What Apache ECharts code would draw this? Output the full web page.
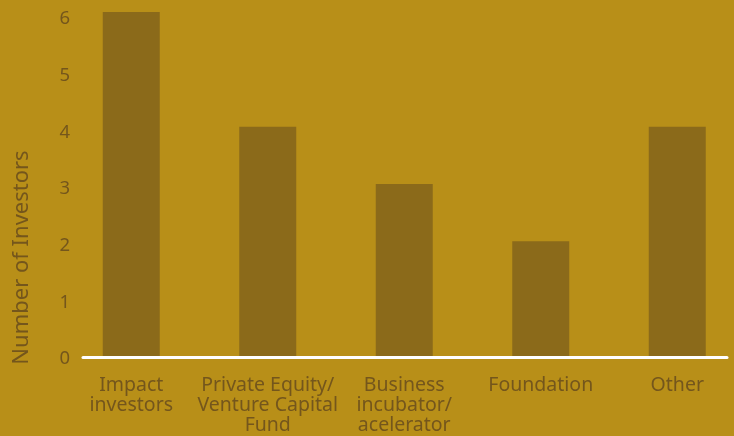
<!DOCTYPE html>
<html>
<head>
<meta charset="utf-8">
<script src="https://cdn.jsdelivr.net/npm/echarts@6/dist/echarts.min.js"></script>
<style>
html,body{margin:0;padding:0;background:#b88f18;}
#chart{width:734px;height:436px;}
</style>
</head>
<body>
<div id="chart"></div>
<script>
const categories = ['Impact\ninvestors', 'Private Equity/\nVenture Capital\nFund', 'Business\nincubator/\nacelerator', 'Foundation', 'Other'];
const investors = [6, 4, 3, 2, 4];
const yTicks = [0, 1, 2, 3, 4, 5, 6];

const textColor = '#74561c';
const font = 'Noto Sans';
const chart = echarts.init(document.getElementById('chart'));
chart.setOption({
  backgroundColor: '#b88f18',
  animation: false,
  grid: [
    { left: 63, width: 682.5, top: 12, bottom: 80, outerBoundsMode: 'none', containLabel: false },
    { left: 83, right: 7, top: 19, bottom: 77, outerBoundsMode: 'none', containLabel: false }
  ],
  xAxis: [
    {
      gridIndex: 0, type: 'category', data: categories,
      axisLine: { show: false }, axisTick: { show: false },
      axisLabel: { color: textColor, fontFamily: font, fontSize: 19.5, lineHeight: 20, margin: 19, interval: 0 }
    },
    {
      gridIndex: 1, type: 'value', min: 0, max: 1, offset: -2,
      axisLine: { show: true, lineStyle: { color: '#ffffff', width: 3 } },
      axisTick: { show: false }, axisLabel: { show: false }, splitLine: { show: false }
    }
  ],
  yAxis: [
    {
      gridIndex: 0, type: 'value', min: yTicks[0], max: yTicks[yTicks.length - 1], interval: 1,
      axisLine: { show: false }, axisTick: { show: false }, axisLabel: { show: false }, splitLine: { show: false }
    },
    {
      gridIndex: 1, type: 'value', min: yTicks[0], max: yTicks[yTicks.length - 1], interval: 1,
      axisLine: { show: false }, axisTick: { show: false }, splitLine: { show: false },
      axisLabel: { color: textColor, fontFamily: font, fontSize: 18.5, margin: 13 },
      name: 'Number of Investors', nameLocation: 'middle', nameGap: 50,
      nameTextStyle: { color: textColor, fontFamily: font, fontSize: 22, padding: [0, 137, 0, 0] }
    }
  ],
  series: [
    {
      type: 'bar', xAxisIndex: 0, yAxisIndex: 0, data: investors, barWidth: 57,
      itemStyle: { color: '#8b6a1a' }
    }
  ]
});
</script>
</body>
</html>
